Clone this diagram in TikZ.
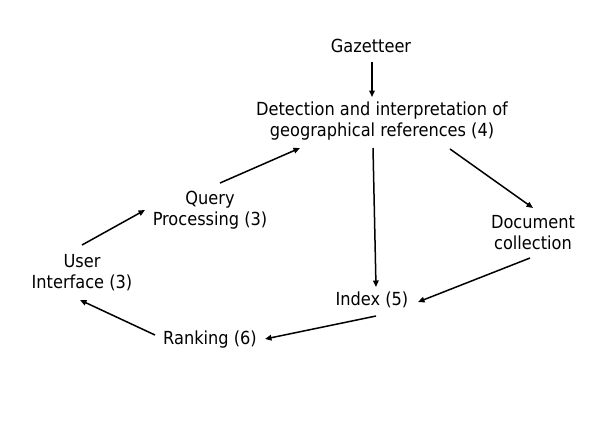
\documentclass[tikz,border=0pt]{standalone}
\usepackage{fontspec}
\setmainfont{DejaVu Sans Condensed}
\usetikzlibrary{arrows.meta}
\begin{document}
\begin{tikzpicture}[x=1bp,y=-1bp,
  lbl/.style={inner sep=0pt,align=center,font=\fontsize{18bp}{21bp}\selectfont},
  arr/.style={line width=1.5bp,-{Triangle[length=6.5bp,width=5.5bp]}}]
\useasboundingbox[fill=white] (0,0) rectangle (600,430);
\node[lbl] (gaz) at (371,46) {Gazetteer};
\node[lbl] (det) at (382,121) {Detection and interpretation of\\geographical references (4)};
\node[lbl] (qp) at (210,210) {Query\\Processing (3)};
\node[lbl] (ui) at (82,272.5) {User\\Interface (3)};
\node[lbl] (rank) at (210,340) {Ranking (6)};
\node[lbl] (idx) at (372,300) {Index (5)};
\node[lbl] (doc) at (533,232.5) {Document\\collection};
\draw[arr] ([shift={(1,16)}]gaz.center) -- ([shift={(-10,-24)}]det.center);
\draw[arr] ([shift={(-9,27)}]det.center) -- ([shift={(4,-13)}]idx.center);
\draw[arr] ([shift={(68,28)}]det.center) -- ([shift={(0,-24.5)}]doc.center);
\draw[arr] ([shift={(-3,25.5)}]doc.center) -- ([shift={(46,2)}]idx.center);
\draw[arr] ([shift={(4,16)}]idx.center) -- ([shift={(55,-1)}]rank.center);
\draw[arr] ([shift={(-55,-5)}]rank.center) -- ([shift={(-2,27.5)}]ui.center);
\draw[arr] ([shift={(0,-27.5)}]ui.center) -- ([shift={(-65,0)}]qp.center);
\draw[arr] ([shift={(10,-27)}]qp.center) -- ([shift={(-82,27)}]det.center);
\end{tikzpicture}
\end{document}
